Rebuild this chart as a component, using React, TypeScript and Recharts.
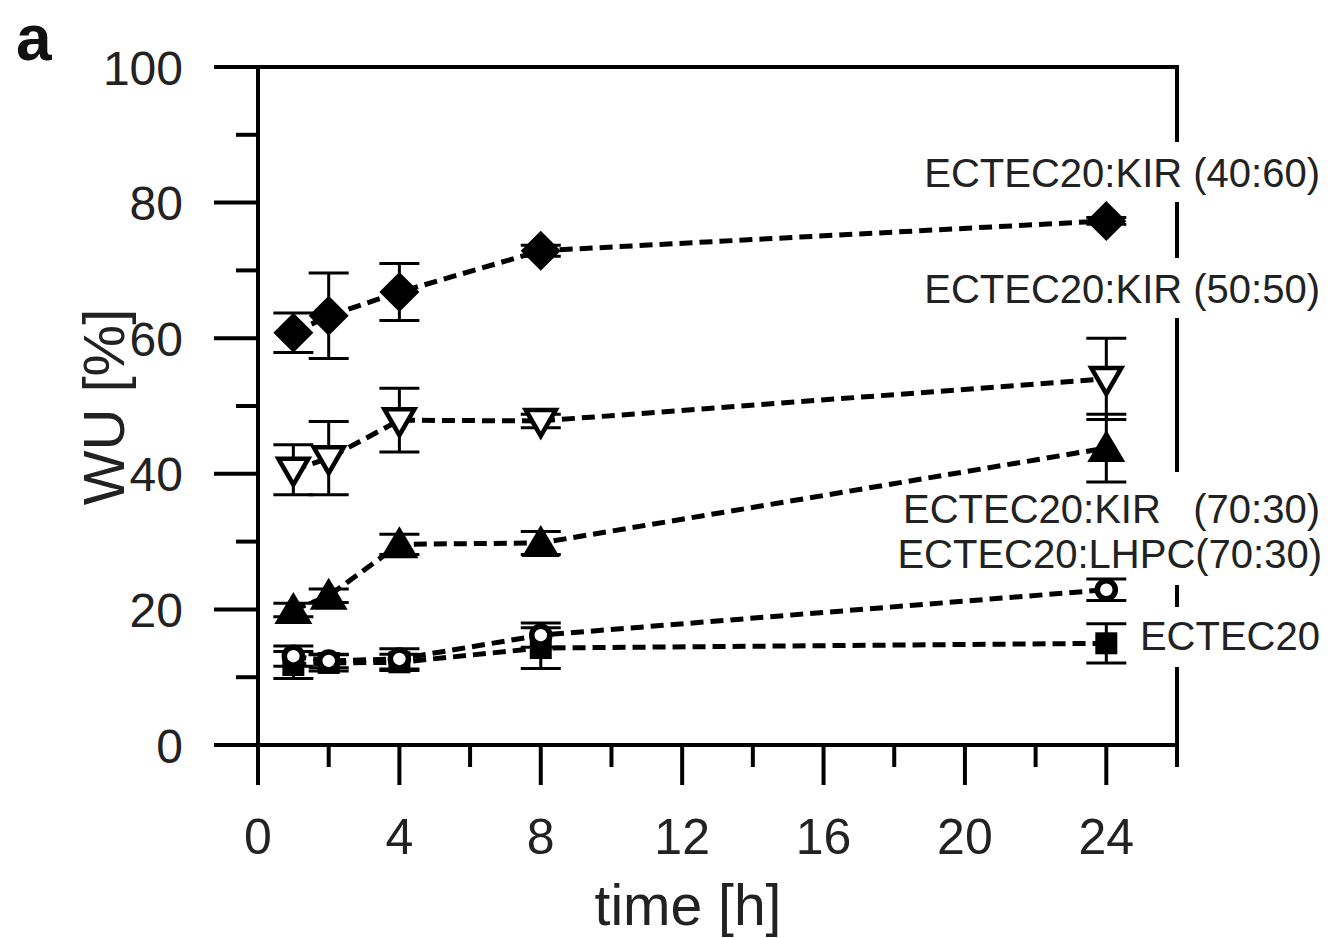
import { LineChart, Line, XAxis, YAxis, ErrorBar } from 'recharts';

const times = [1, 2, 4, 8, 24];

const kir4060 = [60.8, 63.3, 66.8, 72.9, 77.3];
const kir4060Err = [2.9, 6.3, 4.2, 0.8, 0.5];

const kir5050 = [40.6, 42.3, 47.9, 47.8, 54.0];
const kir5050Err = [3.7, 5.4, 4.7, 1.0, 6.0];

const kir7030 = [19.9, 22.0, 29.6, 29.8, 43.8];
const kir7030Err = [1.0, 1.0, 1.5, 1.7, 5.0];

const lhpc7030 = [13.1, 12.4, 12.7, 16.2, 22.9];
const lhpc7030Err = [1.5, 1.0, 1.5, 1.8, 1.6];

const ectec20 = [11.8, 12.1, 12.2, 14.3, 15.0];
const ectec20Err = [2.0, 1.2, 1.2, 3.0, 2.9];

const xTicks = [0, 2, 4, 6, 8, 10, 12, 14, 16, 18, 20, 22, 24, 26];
const yTicks = [0, 10, 20, 30, 40, 50, 60, 70, 80, 90, 100];

const data = times.map((t, i) => ({
  t,
  k4060: kir4060[i],
  k4060e: kir4060Err[i],
  k5050: kir5050[i],
  k5050e: kir5050Err[i],
  k7030: kir7030[i],
  k7030e: kir7030Err[i],
  lhpc: lhpc7030[i],
  lhpce: lhpc7030Err[i],
  ectec: ectec20[i],
  ectece: ectec20Err[i],
}));

const FONT = '"Liberation Sans", Arial, sans-serif';
const TXT = '#222';

// plot box in pixels (used for the frame and the labels on the right)
const LEFT = 258;
const RIGHT = 1177;
const TOP = 67;
const BOTTOM = 745;

// eslint-disable-next-line @typescript-eslint/no-explicit-any
function YTick(props: any) {
  const { x, y, payload } = props;
  const major = payload.value % 20 === 0;
  return (
    <g>
      <line x1={x - (major ? 44 : 22)} y1={y} x2={x} y2={y} stroke="#000" strokeWidth={4} />
      {major && (
        <text x={x - 75} y={y + 1} textAnchor="end" dominantBaseline="central" fontSize={48} fontFamily={FONT} fill={TXT}>
          {payload.value}
        </text>
      )}
    </g>
  );
}

// eslint-disable-next-line @typescript-eslint/no-explicit-any
function XTick(props: any) {
  const { x, y, payload } = props;
  const major = payload.value % 4 === 0 && payload.value <= 24;
  return (
    <g>
      <line x1={x} y1={y} x2={x} y2={y + (major ? 40 : 22)} stroke="#000" strokeWidth={4} />
      {major && (
        <text x={x} y={y + 92} textAnchor="middle" dominantBaseline="central" fontSize={50} fontFamily={FONT} fill={TXT}>
          {payload.value}
        </text>
      )}
    </g>
  );
}

// eslint-disable-next-line @typescript-eslint/no-explicit-any
const Diamond = (p: any) => (
  <polygon key={p.index} points={`${p.cx},${p.cy - 20} ${p.cx + 20},${p.cy} ${p.cx},${p.cy + 20} ${p.cx - 20},${p.cy}`} fill="#000" />
);
// eslint-disable-next-line @typescript-eslint/no-explicit-any
const TriDown = (p: any) => (
  <polygon key={p.index} points={`${p.cx - 15},${p.cy - 11} ${p.cx + 15},${p.cy - 11} ${p.cx},${p.cy + 15}`} fill="#fff" stroke="#000" strokeWidth={4.5} strokeLinejoin="miter" />
);
// eslint-disable-next-line @typescript-eslint/no-explicit-any
const TriUp = (p: any) => (
  <polygon key={p.index} points={`${p.cx},${p.cy - 18} ${p.cx + 19},${p.cy + 14} ${p.cx - 19},${p.cy + 14}`} fill="#000" />
);
// eslint-disable-next-line @typescript-eslint/no-explicit-any
const Ring = (p: any) => (
  <circle key={p.index} cx={p.cx} cy={p.cy} r={9} fill="#fff" stroke="#000" strokeWidth={5.5} />
);
// eslint-disable-next-line @typescript-eslint/no-explicit-any
const Square = (p: any) => (
  <rect key={p.index} x={p.cx - 11} y={p.cy - 11} width={22} height={22} fill="#000" />
);

const lineProps = {
  type: 'linear' as const,
  stroke: '#000',
  strokeWidth: 5,
  strokeDasharray: '13 7',
  activeDot: false,
  isAnimationActive: false,
};

const errProps = {
  width: 20,
  strokeWidth: 3,
  stroke: '#000',
  direction: 'y' as const,
  isAnimationActive: false,
};

function Frame() {
  // right border is broken where the series labels sit
  const gaps = [
    [TOP, 142],
    [202, 258],
    [318, 472],
    [585, 607],
    [667, BOTTOM],
  ];
  const lbl = { fontSize: 40, fontFamily: FONT, fill: TXT };
  return (
    <g>
      <line x1={LEFT} y1={TOP} x2={RIGHT + 2} y2={TOP} stroke="#000" strokeWidth={4} />
      {gaps.map(([a, b]) => (
        <line key={a} x1={RIGHT} y1={a} x2={RIGHT} y2={b} stroke="#000" strokeWidth={4} />
      ))}
      <text x={1320} y={187} textAnchor="end" {...lbl}>ECTEC20:KIR (40:60)</text>
      <text x={1320} y={303} textAnchor="end" {...lbl}>ECTEC20:KIR (50:50)</text>
      <text x={903} y={523} {...lbl}>ECTEC20:KIR</text>
      <text x={1320} y={523} textAnchor="end" {...lbl}>(70:30)</text>
      <text x={1322} y={568} textAnchor="end" {...lbl}>ECTEC20:LHPC(70:30)</text>
      <text x={1320} y={650} textAnchor="end" {...lbl}>ECTEC20</text>
      <text x={688} y={925} textAnchor="middle" fontSize={57} fontFamily={FONT} fill={TXT}>time [h]</text>
      <text
        x={103}
        y={407}
        textAnchor="middle"
        dominantBaseline="central"
        transform="rotate(-90 103 407)"
        fontSize={58}
        fontFamily={FONT}
        fill={TXT}
      >
        WU [%]
      </text>
      <text x={16} y={60} fontSize={64} fontWeight="bold" fontFamily={FONT} fill="#111">a</text>
    </g>
  );
}

export default function App() {
  return (
    <div style={{ width: 1336, height: 938, background: '#fff' }}>
      <style>{'body{margin:0}'}</style>
      <LineChart width={1336} height={938} data={data} margin={{ top: TOP, right: 1336 - RIGHT, left: 0, bottom: 0 }}>
        <XAxis
          type="number"
          dataKey="t"
          domain={[0, 26]}
          ticks={xTicks}
          allowDataOverflow
          height={938 - BOTTOM}
          tickSize={0}
          tickMargin={0}
          tickLine={false}
          tick={<XTick />}
          axisLine={{ stroke: '#000', strokeWidth: 4 }}
        />
        <YAxis
          type="number"
          domain={[0, 100]}
          ticks={yTicks}
          allowDataOverflow
          width={LEFT}
          tickSize={0}
          tickMargin={0}
          tickLine={false}
          tick={<YTick />}
          axisLine={{ stroke: '#000', strokeWidth: 4 }}
        />
        <Line dataKey="ectec" {...lineProps} dot={Square}>
          <ErrorBar dataKey="ectece" {...errProps} />
        </Line>
        <Line dataKey="lhpc" {...lineProps} dot={Ring}>
          <ErrorBar dataKey="lhpce" {...errProps} />
        </Line>
        <Line dataKey="k7030" {...lineProps} dot={TriUp}>
          <ErrorBar dataKey="k7030e" {...errProps} />
        </Line>
        <Line dataKey="k5050" {...lineProps} dot={TriDown}>
          <ErrorBar dataKey="k5050e" {...errProps} />
        </Line>
        <Line dataKey="k4060" {...lineProps} dot={Diamond}>
          <ErrorBar dataKey="k4060e" {...errProps} />
        </Line>
        <Frame />
      </LineChart>
    </div>
  );
}
